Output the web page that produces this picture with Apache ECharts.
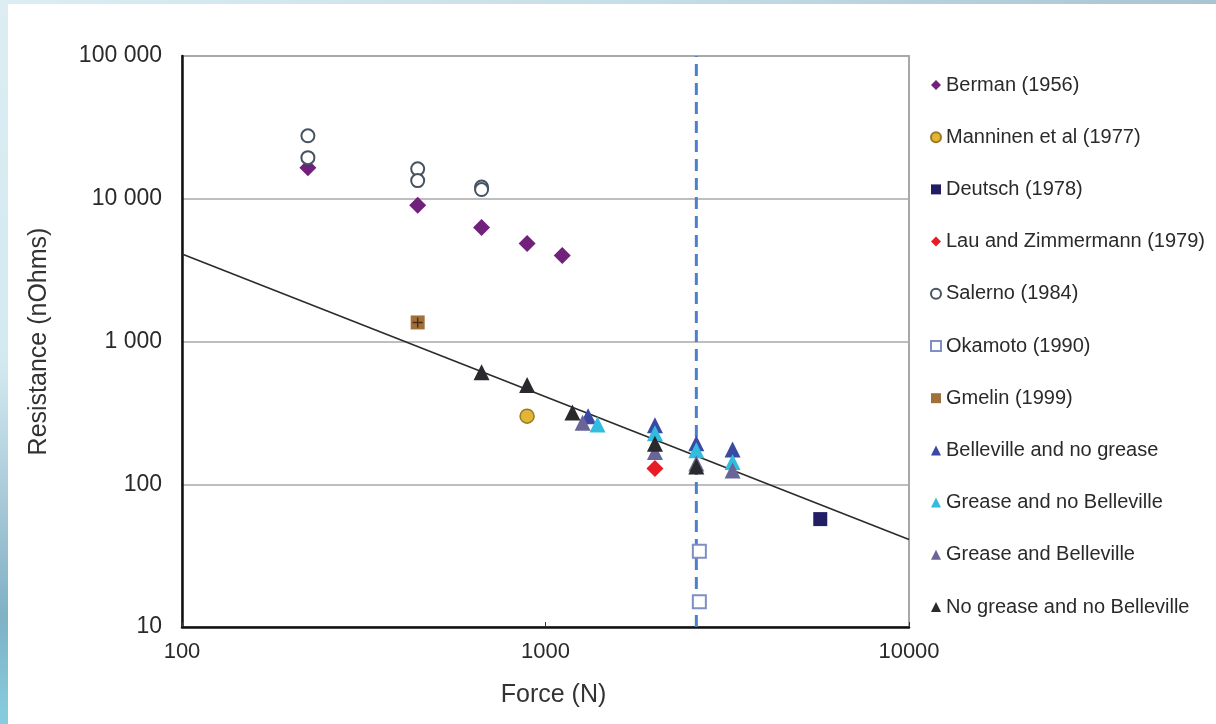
<!DOCTYPE html>
<html>
<head>
<meta charset="utf-8">
<script src="https://cdn.jsdelivr.net/npm/echarts@6/dist/echarts.min.js"></script>
<style>
  html, body { margin: 0; padding: 0; width: 1216px; height: 724px; overflow: hidden; }
  body { background: linear-gradient(to bottom, #dcedf3 0%, #d3e9f0 50%, #a6c8d6 70%, #7fb1c5 85%, #86cde0 100%); position: relative; }
  #topstrip { position: absolute; left: 0; top: 0; width: 1216px; height: 4px; background: linear-gradient(to right, #dcedf3 0%, #c7dfe8 50%, #a9c4d2 100%); }
  #panel { position: absolute; left: 8px; top: 4px; width: 1208px; height: 720px; background: #ffffff; }
  #chart { position: absolute; left: 0; top: 0; width: 1216px; height: 724px; }
</style>
</head>
<body>
<div id="topstrip"></div>
<div id="panel"></div>
<div id="chart"></div>
<script>
// ---- data (Force in N, Resistance in nOhms) ----
const bermanForce = [222, 445, 667, 890, 1112];
const bermanResist = [16500, 9000, 6300, 4850, 4000];

const manninenForce = [890];
const manninenResist = [300];

const deutschForce = [5700];
const deutschResist = [57];

const lauForce = [2000];
const lauResist = [129];

const salernoForce = [222, 222, 445, 445, 667, 667];
const salernoResist = [27600, 19400, 16200, 13400, 12100, 11600];

const okamotoForce = [2650, 2650];
const okamotoResist = [34, 15];

const gmelinForce = [445];
const gmelinResist = [1360];

const bellNoGreaseForce = [1310, 2000, 2600, 3270];
const bellNoGreaseResist = [300, 259, 194, 175];

const greaseNoBellForce = [1390, 2000, 2600, 3270];
const greaseNoBellResist = [262, 228, 173, 143];

const greaseBellForce = [1265, 2000, 2600, 3270];
const greaseBellResist = [270, 168, 140, 125];

const noGreaseNoBellForce = [667, 890, 1186, 2000, 2600];
const noGreaseNoBellResist = [610, 495, 318, 192, 133];

const trendForce = [100, 10000];
const trendResist = [4100, 41];

const referenceForce = [2600, 2600];
const referenceResist = [10, 100000];

const xTickLabels = ['100', '1000', '10000'];
const seriesNames = [
  'Berman (1956)', 'Manninen et al (1977)', 'Deutsch (1978)', 'Lau and Zimmermann (1979)',
  'Salerno (1984)', 'Okamoto (1990)', 'Gmelin (1999)', 'Belleville and no grease',
  'Grease and no Belleville', 'Grease and Belleville', 'No grease and no Belleville'
];

function pairs(xs, ys) { return xs.map((x, i) => [x, ys[i]]); }
function fmtSpace(v) { return String(Math.round(v)).replace(/\B(?=(\d{3})+(?!\d))/g, ' '); }

const FONT = 'Liberation Sans, Arial, sans-serif';
const chart = echarts.init(document.getElementById('chart'), null, { renderer: 'canvas' });

function scatter(name, xs, ys, symbol, size, color, style) {
  return {
    name: name, type: 'scatter', data: pairs(xs, ys), symbol: symbol, symbolSize: size,
    itemStyle: Object.assign({ color: color, opacity: 1 }, style || {}),
    emphasis: { disabled: true }, z: 3
  };
}

const option = {
  animation: false,
  textStyle: { fontFamily: FONT },
  grid: { left: 182, top: 56, right: 307, bottom: 97, show: true, borderColor: '#a8a8a8', borderWidth: 2, backgroundColor: 'transparent' },
  legend: {
    data: seriesNames,
    orient: 'vertical', left: 925, top: 70, itemGap: 32.2,
    itemWidth: 10, itemHeight: 10,
    textStyle: { fontFamily: FONT, fontSize: 20, color: '#2a2a2a', lineHeight: 20 },
    selectedMode: false
  },
  xAxis: {
    type: 'log', logBase: 10, min: 100, max: 10000,
    name: 'Force (N)', nameLocation: 'middle', nameGap: 56,
    nameTextStyle: { fontFamily: FONT, fontSize: 25, color: '#333', padding: [0, 0, 0, 16] },
    axisLine: { show: true, lineStyle: { color: '#111', width: 2.5 } },
    axisTick: { show: true, inside: true, length: 5, lineStyle: { color: '#333' } },
    axisLabel: { fontFamily: FONT, fontSize: 22, color: '#2a2a2a', margin: 14,
      formatter: (v) => { const i = Math.round(Math.log10(v)) - 2; return xTickLabels[i] !== undefined ? xTickLabels[i] : String(v); } },
    splitLine: { show: false }
  },
  yAxis: {
    type: 'log', logBase: 10, min: 10, max: 100000,
    name: 'Resistance (nOhms)', nameLocation: 'middle', nameGap: 130,
    nameTextStyle: { fontFamily: FONT, fontSize: 25, color: '#333' },
    axisLine: { show: true, lineStyle: { color: '#111', width: 2.5 } },
    axisTick: { show: false },
    axisLabel: { fontFamily: FONT, fontSize: 23, color: '#2a2a2a', margin: 20, formatter: fmtSpace },
    splitLine: { show: true, lineStyle: { color: '#a8a8a8', width: 1.5 } }
  },
  series: [
    { name: 'trend', type: 'line', data: pairs(trendForce, trendResist), symbol: 'none',
      lineStyle: { color: '#2b2b2b', width: 1.6 }, silent: true, z: 2 },
    { name: 'reference', type: 'line', data: pairs(referenceForce, referenceResist), symbol: 'none',
      lineStyle: { color: '#4a80cc', width: 3, type: [12, 7] }, silent: true, z: 2 },
    scatter(seriesNames[0], bermanForce, bermanResist, 'diamond', 17, '#71207c'),
    scatter(seriesNames[1], manninenForce, manninenResist, 'circle', 14, '#e3b536', { borderColor: '#9c7a22', borderWidth: 1.5 }),
    scatter(seriesNames[2], deutschForce, deutschResist, 'rect', 14, '#221e66'),
    scatter(seriesNames[3], lauForce, lauResist, 'diamond', 17, '#e81c26'),
    scatter(seriesNames[4], salernoForce, salernoResist, 'emptyCircle', 13, '#46525f', { borderWidth: 1.6 }),
    scatter(seriesNames[5], okamotoForce, okamotoResist, 'emptyRect', 13, '#7f8fc4', { borderWidth: 1.6 }),
    scatter(seriesNames[6], gmelinForce, gmelinResist, 'rect', 14, '#a0703a'),
    scatter(seriesNames[7], bellNoGreaseForce, bellNoGreaseResist, 'triangle', 16, '#3a4aa2'),
    scatter(seriesNames[8], greaseNoBellForce, greaseNoBellResist, 'triangle', 16, '#30bde0'),
    scatter(seriesNames[9], greaseBellForce, greaseBellResist, 'triangle', 16, '#6a6599'),
    scatter(seriesNames[10], noGreaseNoBellForce, noGreaseNoBellResist, 'triangle', 16, '#2a2a2e'),
    { name: 'Gmelin cross', type: 'scatter', data: pairs(gmelinForce, gmelinResist),
      symbol: 'path://M4.3,0h1.4v10h-1.4z M0,4.3h10v1.4h-10z', symbolSize: 10,
      itemStyle: { color: '#4a2c10', opacity: 1 }, silent: true, z: 4 }
  ]
};
chart.setOption(option);
</script>
</body>
</html>
